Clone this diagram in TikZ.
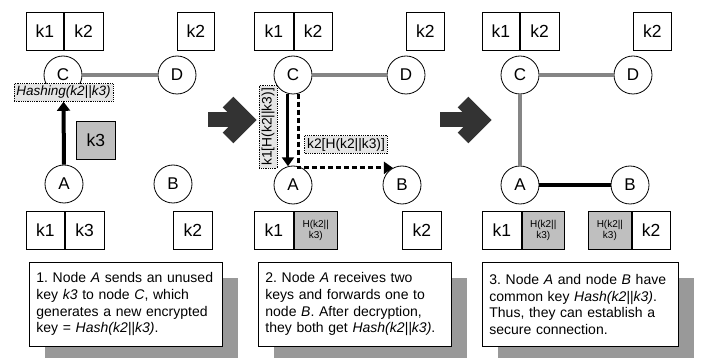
\documentclass[tikz,border=0pt]{standalone}
\usepackage{fontspec}
\setmainfont{Liberation Sans}
\usetikzlibrary{arrows.meta,shadows}
\frenchspacing
\begin{document}
\begin{tikzpicture}[x=1pt,y=-1pt,line width=0.8pt,
  keycell/.style={draw, fill=white, inner sep=0pt, minimum height=38pt, minimum width=38pt,
    anchor=north west, font=\fontsize{17.5}{19}\selectfont},
  hashcell/.style={keycell, fill=black!25, align=center, font=\fontsize{10}{11}\selectfont},
  peer/.style={draw, circle, fill=white, minimum size=38pt, inner sep=0pt,
    font=\fontsize{17}{19}\selectfont},
  grayedge/.style={draw=black!48, line width=3.5pt},
  tag/.style={draw, densely dotted, fill=black!10, inner sep=2.5pt, font=\fontsize{13.8}{15}\selectfont},
  note/.style={draw, fill=white, text width=179pt, inner sep=7pt, minimum height=84pt,
    anchor=north west, align=left, font=\fontsize{14}{16.7}\selectfont,
    drop shadow={shadow xshift=16pt, shadow yshift=-16pt, fill=black!40, opacity=1}},
  bigarrow/.style={draw=black!80, line width=15pt, line join=miter},
  flow/.style={line width=3pt, -{Triangle[width=12pt,length=9pt]}}
]
\clip (0,0) rectangle (707,358);
\useasboundingbox (0,0) rectangle (707,358);

% ---------- step 1 ----------
\node[keycell, minimum width=37pt] (t1a) at (26,12) {k1};
\node[keycell, minimum width=39pt] (t1b) at (t1a.north east) {k2};
\node[keycell, minimum width=37pt] (t1d) at (177,12) {k2};
\node[peer] (C1) at (63,75) {C};
\node[peer] (D1) at (177,75) {D};
\node[peer] (A1) at (64,184) {A};
\node[peer] (B1) at (173,184) {B};
\draw[grayedge] (C1) -- (D1);
\node[keycell, fill=black!25, minimum width=39pt] (k3) at (76,121) {k3};
\node[tag, font=\fontsize{13.5}{15}\itshape] (L1) at (63.5,92.5) {Hashing(k2||k3)};
\draw[line width=4pt, -{Triangle[width=13pt,length=9pt]}] (A1.north) -- (L1.south);
\node[keycell, minimum width=38pt] (b1a) at (26,211) {k1};
\node[keycell, minimum width=39pt] (b1b) at (b1a.north east) {k3};
\node[keycell, minimum width=39pt] (b1c) at (173,211) {k2};
\node[note] (n1) at (29,262) {1. Node \textit{A} sends an unused\\
  key \textit{k3} to node \textit{C}, which\\
  generates a new encrypted\\
  key = \textit{Hash(k2||k3)}.};

% ---------- arrow between steps ----------
\draw[bigarrow] (208,120) -- (246,120);
\draw[bigarrow] (228,102) -- (246,120) -- (228,138);

% ---------- step 2 ----------
\node[keycell, minimum width=39pt] (t2a) at (254,12) {k1};
\node[keycell, minimum width=38pt] (t2b) at (t2a.north east) {k2};
\node[keycell, minimum width=38pt] (t2d) at (406,12) {k2};
\node[peer] (C2) at (293,75) {C};
\node[peer] (D2) at (406,75) {D};
\node[peer] (A2) at (293,185) {A};
\node[peer] (B2) at (402,185) {B};
\draw[grayedge] (C2) -- (D2);
\draw[flow] (C2.-105) -- (A2.105);
\draw[flow, dash pattern=on 5pt off 3pt] (C2.-75) |- (B2.118);
\node[tag, rotate=90] (L2) at (268,127) {k1[H(k2||k3)]};
\node[tag] (L3) at (346,144.5) {k2[H(k2||k3)]};
\node[keycell, minimum width=39pt] (b2a) at (254,211) {k1};
\node[hashcell, minimum width=43pt] (b2b) at (b2a.north east) {H(k2||\\k3)};
\node[keycell, minimum width=39pt] (b2c) at (402,211) {k2};
\node[note] (n2) at (258,262) {2. Node \textit{A} receives two\\
  keys and forwards one to\\
  node \textit{B}. After decryption,\\
  they both get \textit{Hash(k2||k3)}.};

% ---------- arrow between steps ----------
\draw[bigarrow] (440,120) -- (481,120);
\draw[bigarrow] (463,102) -- (481,120) -- (463,138);

% ---------- step 3 ----------
\node[keycell, minimum width=37pt] (t3a) at (482,12) {k1};
\node[keycell, minimum width=39pt] (t3b) at (t3a.north east) {k2};
\node[keycell, minimum width=38pt] (t3d) at (633,12) {k2};
\node[peer] (C3) at (520,75) {C};
\node[peer] (D3) at (633,75) {D};
\node[peer] (A3) at (520,185) {A};
\node[peer] (B3) at (630,185) {B};
\draw[grayedge] (C3) -- (D3);
\draw[grayedge] (C3) -- (A3);
\draw[line width=3.5pt] (A3) -- (B3);
\node[keycell, minimum width=39pt] (b3a) at (482,211) {k1};
\node[hashcell, minimum width=42pt] (b3b) at (b3a.north east) {H(k2||\\k3)};
\node[hashcell, minimum width=43pt] (b3c) at (588,211) {H(k2||\\k3)};
\node[keycell, minimum width=38pt] (b3d) at (b3c.north east) {k2};
\node[note, text width=182pt] (n3) at (482,262) {3. Node \textit{A} and node \textit{B} have\\
  common key \textit{Hash(k2||k3)}.\\
  Thus, they can establish a\\
  secure connection.};
\end{tikzpicture}
\end{document}
